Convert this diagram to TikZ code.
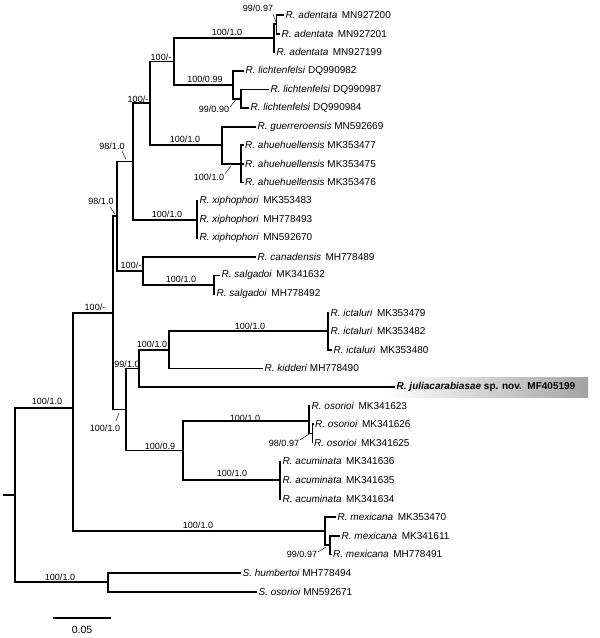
\documentclass[tikz,border=0pt]{standalone}
\usepackage{fontspec}
\setmainfont{Liberation Sans}
\newcommand\lfd[2]{\textit{#1}\hspace{0.45em}#2}
\newcommand\lfs[2]{\textit{#1} #2}
\begin{document}
\begin{tikzpicture}[x=1pt,y=-1pt,
  br/.style={line width=1.8pt, line join=miter},
  leaf/.style={anchor=west, inner xsep=1.5pt, inner ysep=0pt, font=\fontsize{10}{12}\selectfont},
  sup/.style={font=\fontsize{9}{10}\selectfont, inner sep=0pt},
  lead/.style={line width=0.45pt}]
\useasboundingbox (0,0) rectangle (600,638);
% highlight box
\shade[left color=white, right color=black!36] (385,377) rectangle (588,397);
% internal nodes
\coordinate (rs) at (3,495);
\coordinate (root) at (15,495);
\coordinate (nA) at (73,408);
\coordinate (nS) at (108,582.3);
\coordinate (n113) at (113,312.8);
\coordinate (n117) at (117,216.1);
\coordinate (n133) at (133,161.5);
\coordinate (n150) at (150,103.35);
\coordinate (n174) at (174,61.5);
\coordinate (a1) at (274,38.25);
\coordinate (a2) at (276.5,24.3);
\coordinate (l1) at (233,84.75);
\coordinate (l2) at (241,98.7);
\coordinate (g1) at (222,145.2);
\coordinate (ah) at (241,163.8);
\coordinate (xi) at (197,219.6);
\coordinate (cs) at (143,270.75);
\coordinate (sa) at (214,284.7);
\coordinate (n126) at (126,409.5);
\coordinate (n139) at (139,368.4);
\coordinate (n169) at (169,349.8);
\coordinate (ic) at (328,331.2);
\coordinate (n183) at (183,450.5);
\coordinate (os1) at (309,421);
\coordinate (os2) at (312.5,433.5);
\coordinate (ac) at (280,480);
\coordinate (mx1) at (325,531.2);
\coordinate (mx2) at (330,545.1);
% leaves
\node[leaf] (L1) at (284,15) {\lfd{R. adentata}{MN927200}};
\node[leaf] (L2) at (280,33.6) {\lfd{R. adentata}{MN927201}};
\node[leaf] (L3) at (275,52.2) {\lfd{R. adentata}{MN927199}};
\node[leaf] (L4) at (244,70.8) {\lfs{R. lichtenfelsi}{DQ990982}};
\node[leaf] (L5) at (269,89.4) {\lfs{R. lichtenfelsi}{DQ990987}};
\node[leaf] (L6) at (249,108) {\lfs{R. lichtenfelsi}{DQ990984}};
\node[leaf] (L7) at (256,126.6) {\lfs{R. guerreroensis}{MN592669}};
\node[leaf] (L8) at (243.5,145.2) {\lfs{R. ahuehuellensis}{MK353477}};
\node[leaf] (L9) at (243.5,163.8) {\lfs{R. ahuehuellensis}{MK353475}};
\node[leaf] (L10) at (243.5,182.4) {\lfs{R. ahuehuellensis}{MK353476}};
\node[leaf] (L11) at (198,201) {\lfd{R. xiphophori}{MK353483}};
\node[leaf] (L12) at (198,219.6) {\lfd{R. xiphophori}{MH778493}};
\node[leaf] (L13) at (198,238.2) {\lfd{R. xiphophori}{MN592670}};
\node[leaf] (L14) at (256,256.8) {\lfd{R. canadensis}{MH778489}};
\node[leaf] (L15) at (220,275.4) {\lfd{R. salgadoi}{MK341632}};
\node[leaf] (L16) at (215,294) {\lfd{R. salgadoi}{MH778492}};
\node[leaf] (L17) at (329,312.6) {\lfd{R. ictaluri}{MK353479}};
\node[leaf] (L18) at (329,331.2) {\lfd{R. ictaluri}{MK353482}};
\node[leaf] (L19) at (332,349.8) {\lfd{R. ictaluri}{MK353480}};
\node[leaf] (L20) at (263,368.4) {\lfs{R. kidderi}{MH778490}};
\node[leaf] (L21) at (395,387) {\textbf{\textit{R. juliacarabiasae}} \textbf{sp. nov.\hspace{0.55em}MF405199}};
\node[leaf] (L22) at (310,405.6) {\lfd{R. osorioi}{MK341623}};
\node[leaf] (L23) at (313.5,424.2) {\lfd{R. osorioi}{MK341626}};
\node[leaf] (L24) at (312.5,442.8) {\lfd{R. osorioi}{MK341625}};
\node[leaf] (L25) at (281,461.4) {\lfd{R. acuminata}{MK341636}};
\node[leaf] (L26) at (281,480) {\lfd{R. acuminata}{MK341635}};
\node[leaf] (L27) at (281,498.6) {\lfd{R. acuminata}{MK341634}};
\node[leaf] (L28) at (336,517.2) {\lfd{R. mexicana}{MK353470}};
\node[leaf] (L29) at (340,535.8) {\lfd{R. mexicana}{MK341611}};
\node[leaf] (L30) at (331.5,554.4) {\lfd{R. mexicana}{MH778491}};
\node[leaf] (L31) at (241,573) {\lfs{S. humbertoi}{MH778494}};
\node[leaf] (L32) at (257,591.6) {\lfs{S. osorioi}{MN592671}};
% branches
\draw[br] (rs) -- (root);
\draw[br] (root) |- (nA);  \draw[br] (root) |- (nS);
\draw[br] (nA) |- (n113);  \draw[br] (nA) |- (mx1);
\draw[br] (n113) |- (n117); \draw[br] (n113) |- (n126);
\draw[br] (n117) |- (n133); \draw[br] (n117) |- (cs);
\draw[br] (n133) |- (n150); \draw[br] (n133) |- (xi);
\draw[br] (n150) |- (n174); \draw[br] (n150) |- (g1);
\draw[br] (n174) |- (a1);  \draw[br] (n174) |- (l1);
\draw[br] (a1) |- (a2);    \draw[br] (a1) |- (L3.west);
\draw[br] (a2) |- (L1.west); \draw[br] (a2) |- (L2.west);
\draw[br] (l1) |- (L4.west); \draw[br] (l1) |- (l2);
\draw[br] (l2) |- (L5.west); \draw[br] (l2) |- (L6.west);
\draw[br] (g1) |- (L7.west); \draw[br] (g1) |- (ah);
\draw[br] (ah) |- (L8.west); \draw[br] (ah) |- (L9.west); \draw[br] (ah) |- (L10.west);
\draw[br] (xi) |- (L11.west); \draw[br] (xi) |- (L12.west); \draw[br] (xi) |- (L13.west);
\draw[br] (cs) |- (L14.west); \draw[br] (cs) |- (sa);
\draw[br] (sa) |- (L15.west); \draw[br] (sa) |- (L16.west);
\draw[br] (n126) |- (n139); \draw[br] (n126) |- (n183);
\draw[br] (n139) |- (n169); \draw[br] (n139) |- (L21.west);
\draw[br] (n169) |- (ic);  \draw[br] (n169) |- (L20.west);
\draw[br] (ic) |- (L17.west); \draw[br] (ic) |- (L18.west); \draw[br] (ic) |- (L19.west);
\draw[br] (n183) |- (os1); \draw[br] (n183) |- (ac);
\draw[br] (os1) |- (L22.west); \draw[br] (os1) |- (os2);
\draw[br] (os2) |- (L23.west); \draw[br] (os2) |- (L24.west);
\draw[br] (ac) |- (L25.west); \draw[br] (ac) |- (L26.west); \draw[br] (ac) |- (L27.west);
\draw[br] (mx1) |- (L28.west); \draw[br] (mx1) |- (mx2);
\draw[br] (mx2) |- (L29.west); \draw[br] (mx2) |- (L30.west);
\draw[br] (nS) |- (L31.west); \draw[br] (nS) |- (L32.west);
% support values
\node[sup] (sa2) at (258,8) {99/0.97};
\node[sup] (sa1) at (227,32) {100/1.0};
\node[sup] (s174) at (161,57) {100/-};
\node[sup] (sl1) at (205,79) {100/0.99};
\node[sup] (sl2) at (214,109) {99/0.90};
\node[sup] (s150) at (138,99) {100/-};
\node[sup] (s133) at (112,146) {98/1.0};
\node[sup] (s117) at (101,201) {98/1.0};
\node[sup] (sg1) at (185,139) {100/1.0};
\node[sup] (sah) at (209,177) {100/1.0};
\node[sup] (sxi) at (167,214) {100/1.0};
\node[sup] (scs) at (131,265) {100/-};
\node[sup] (ssa) at (181,279) {100/1.0};
\node[sup] (sic) at (250,326) {100/1.0};
\node[sup] (s169) at (152,344) {100/1.0};
\node[sup] (s139) at (127,364) {99/1.0};
\node[sup] (s126) at (105,428) {100/1.0};
\node[sup] (s183) at (160,446) {100/0.9};
\node[sup] (sos1) at (245,418) {100/1.0};
\node[sup] (sos2) at (284,443) {98/0.97};
\node[sup] (sac) at (232,473) {100/1.0};
\node[sup] (smx1) at (198,525) {100/1.0};
\node[sup] (smx2) at (302,554) {99/0.97};
\node[sup] (sA) at (47,401) {100/1.0};
\node[sup] (s113) at (95,307) {100/-};
\node[sup] (sS) at (60,577) {100/1.0};
% leader lines
\coordinate (q1a) at (273,14);   \coordinate (q1b) at (276,22);
\coordinate (q2a) at (230,107);  \coordinate (q2b) at (237,98);
\coordinate (q3a) at (122,151);  \coordinate (q3b) at (126,159);
\coordinate (q4a) at (110,207);  \coordinate (q4b) at (115,214);
\coordinate (q5a) at (225,174);  \coordinate (q5b) at (231,166);
\coordinate (q6a) at (116,421);  \coordinate (q6b) at (119,413);
\coordinate (q7a) at (300,440);  \coordinate (q7b) at (309,434);
\coordinate (q8a) at (318,552);  \coordinate (q8b) at (326,547);
\draw[lead] (q1a) -- (q1b);
\draw[lead] (q2a) -- (q2b);
\draw[lead] (q3a) -- (q3b);
\draw[lead] (q4a) -- (q4b);
\draw[lead] (q5a) -- (q5b);
\draw[lead] (q6a) -- (q6b);
\draw[lead] (q7a) -- (q7b);
\draw[lead] (q8a) -- (q8b);
% scale bar
\coordinate (sb1) at (53,618);
\coordinate (sb2) at (111,618);
\draw[line width=1.4pt] (sb1) -- (sb2);
\node[font=\fontsize{10.5}{12}\selectfont, inner sep=0pt] (sbl) at (82,630) {0.05};
\end{tikzpicture}
\end{document}
